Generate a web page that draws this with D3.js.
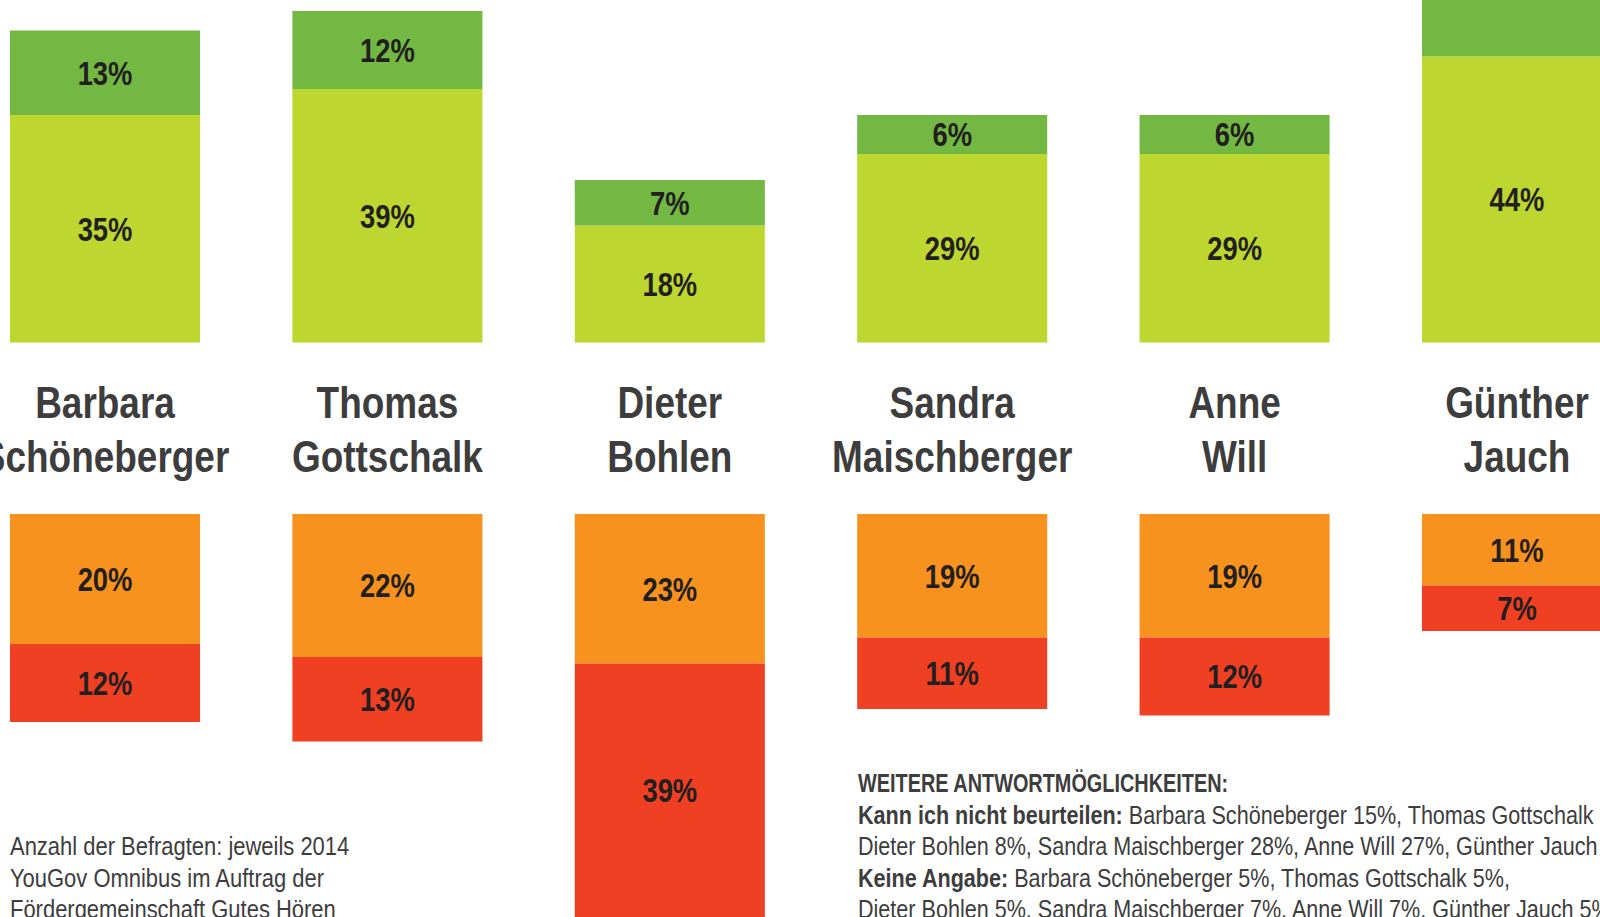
<!DOCTYPE html>
<html>
<head>
<meta charset="utf-8">
<script src="https://cdn.jsdelivr.net/npm/d3@7"></script>
<style>
  body { margin: 0; background: #fff; overflow: hidden; }
</style>
</head>
<body>
<div id="chart"></div>
<script>
// Data
const people = ["Barbara Schöneberger", "Thomas Gottschalk", "Dieter Bohlen",
                "Sandra Maischberger", "Anne Will", "Günther Jauch"];
const nameLines = [["Barbara", "Schöneberger"], ["Thomas", "Gottschalk"], ["Dieter", "Bohlen"],
                   ["Sandra", "Maischberger"], ["Anne", "Will"], ["Günther", "Jauch"]];
const veryPositive = [13, 12, 7, 6, 6, 22];   // dark green (last one cut off in the picture)
const positive     = [35, 39, 18, 29, 29, 44];  // light green
const negative     = [20, 22, 23, 19, 19, 11];  // orange
const veryNegative = [12, 13, 39, 11, 12, 7];   // red

const noteLeft = ["Anzahl der Befragten: jeweils 2014",
                  "YouGov Omnibus im Auftrag der",
                  "Fördergemeinschaft Gutes Hören"];
const noteHead = "WEITERE ANTWORTMÖGLICHKEITEN:";
const noteRight = [
  [["Kann ich nicht beurteilen: ", true], ["Barbara Schöneberger 15%, Thomas Gottschalk", false]],
  [["Dieter Bohlen 8%, Sandra Maischberger 28%, Anne Will 27%, Günther Jauch", false]],
  [["Keine Angabe: ", true], ["Barbara Schöneberger 5%, Thomas Gottschalk 5%,", false]],
  [["Dieter Bohlen 5%, Sandra Maischberger 7%, Anne Will 7%, Günther Jauch 5%", false]]
];

const colors = { vp: "#72b843", p: "#bdd630", n: "#f7921e", vn: "#f04023" };

function drawChart() {
  const width = 1600, height = 917;
  const topBase = 342.5, bottomBase = 514;
  const font = "'Liberation Sans', Arial, sans-serif";

  const svg = d3.select("#chart").append("svg")
      .attr("width", width)
      .attr("height", height)
      .style("display", "block");

  const x = d3.scaleBand()
      .domain(people)
      .range([10, 1612])
      .paddingInner(0.327)
      .paddingOuter(0);

  // pixels per percentage point
  const h = d3.scaleLinear().domain([0, 1]).range([0, 6.5]);

  // segments: upper stack grows up, lower stack grows down
  const segs = [];
  people.forEach((p, i) => {
    const y1 = topBase - h(positive[i]);
    segs.push({ p, v: positive[i], y0: y1, y1: topBase, c: colors.p });
    segs.push({ p, v: veryPositive[i], y0: y1 - h(veryPositive[i]), y1: y1, c: colors.vp });
    const y2 = bottomBase + h(negative[i]);
    segs.push({ p, v: negative[i], y0: bottomBase, y1: y2, c: colors.n });
    segs.push({ p, v: veryNegative[i], y0: y2, y1: y2 + h(veryNegative[i]), c: colors.vn });
  });

  svg.append("g").selectAll("rect")
    .data(segs)
    .join("rect")
      .attr("x", d => x(d.p))
      .attr("y", d => d.y0)
      .attr("width", x.bandwidth())
      .attr("height", d => d.y1 - d.y0)
      .attr("fill", d => d.c);

  // labels only where the middle of the segment is on the page
  svg.append("g").selectAll("text")
    .data(segs.filter(d => (d.y0 + d.y1) / 2 > 0))
    .join("text")
      .attr("transform", d => `translate(${x(d.p) + x.bandwidth() / 2},${(d.y0 + d.y1) / 2}) scale(0.83,1)`)
      .attr("dy", "0.36em")
      .attr("text-anchor", "middle")
      .style("font-family", font)
      .style("font-weight", "bold")
      .style("font-size", "33px")
      .attr("fill", "#231f20")
      .text(d => d.v + "%");

  // names between the two stacks
  const nameG = svg.append("g").selectAll("g")
    .data(people)
    .join("g");
  nameG.each(function(p, i) {
    const g = d3.select(this);
    nameLines[i].forEach((line, j) => {
      g.append("text")
        .attr("transform", `translate(${x(p) + x.bandwidth() / 2},${418 + j * 54}) scale(0.84,1)`)
        .attr("text-anchor", "middle")
        .style("font-family", font)
        .style("font-weight", "bold")
        .style("font-size", "44px")
        .attr("fill", "#3d3d3d")
        .text(line);
    });
  });

  // footnotes
  svg.append("g").selectAll("text")
    .data(noteLeft)
    .join("text")
      .attr("transform", (d, i) => `translate(10,${855 + i * 31.5}) scale(0.845,1)`)
      .style("font-family", font)
      .style("font-size", "26px")
      .attr("fill", "#3d3d3d")
      .text(d => d);

  svg.append("text")
      .attr("transform", "translate(858,792) scale(0.765,1)")
      .style("font-family", font)
      .style("font-weight", "bold")
      .style("font-size", "26px")
      .attr("fill", "#3d3d3d")
      .text(noteHead);

  const right = svg.append("g").selectAll("text")
    .data(noteRight)
    .join("text")
      .attr("transform", (d, i) => `translate(858,${823.5 + i * 31.5}) scale(0.83,1)`)
      .style("font-family", font)
      .style("font-size", "26px")
      .attr("fill", "#3d3d3d");
  right.selectAll("tspan")
    .data(d => d)
    .join("tspan")
      .style("font-weight", d => d[1] ? "bold" : "normal")
      .text(d => d[0]);
}

drawChart();
</script>
</body>
</html>
